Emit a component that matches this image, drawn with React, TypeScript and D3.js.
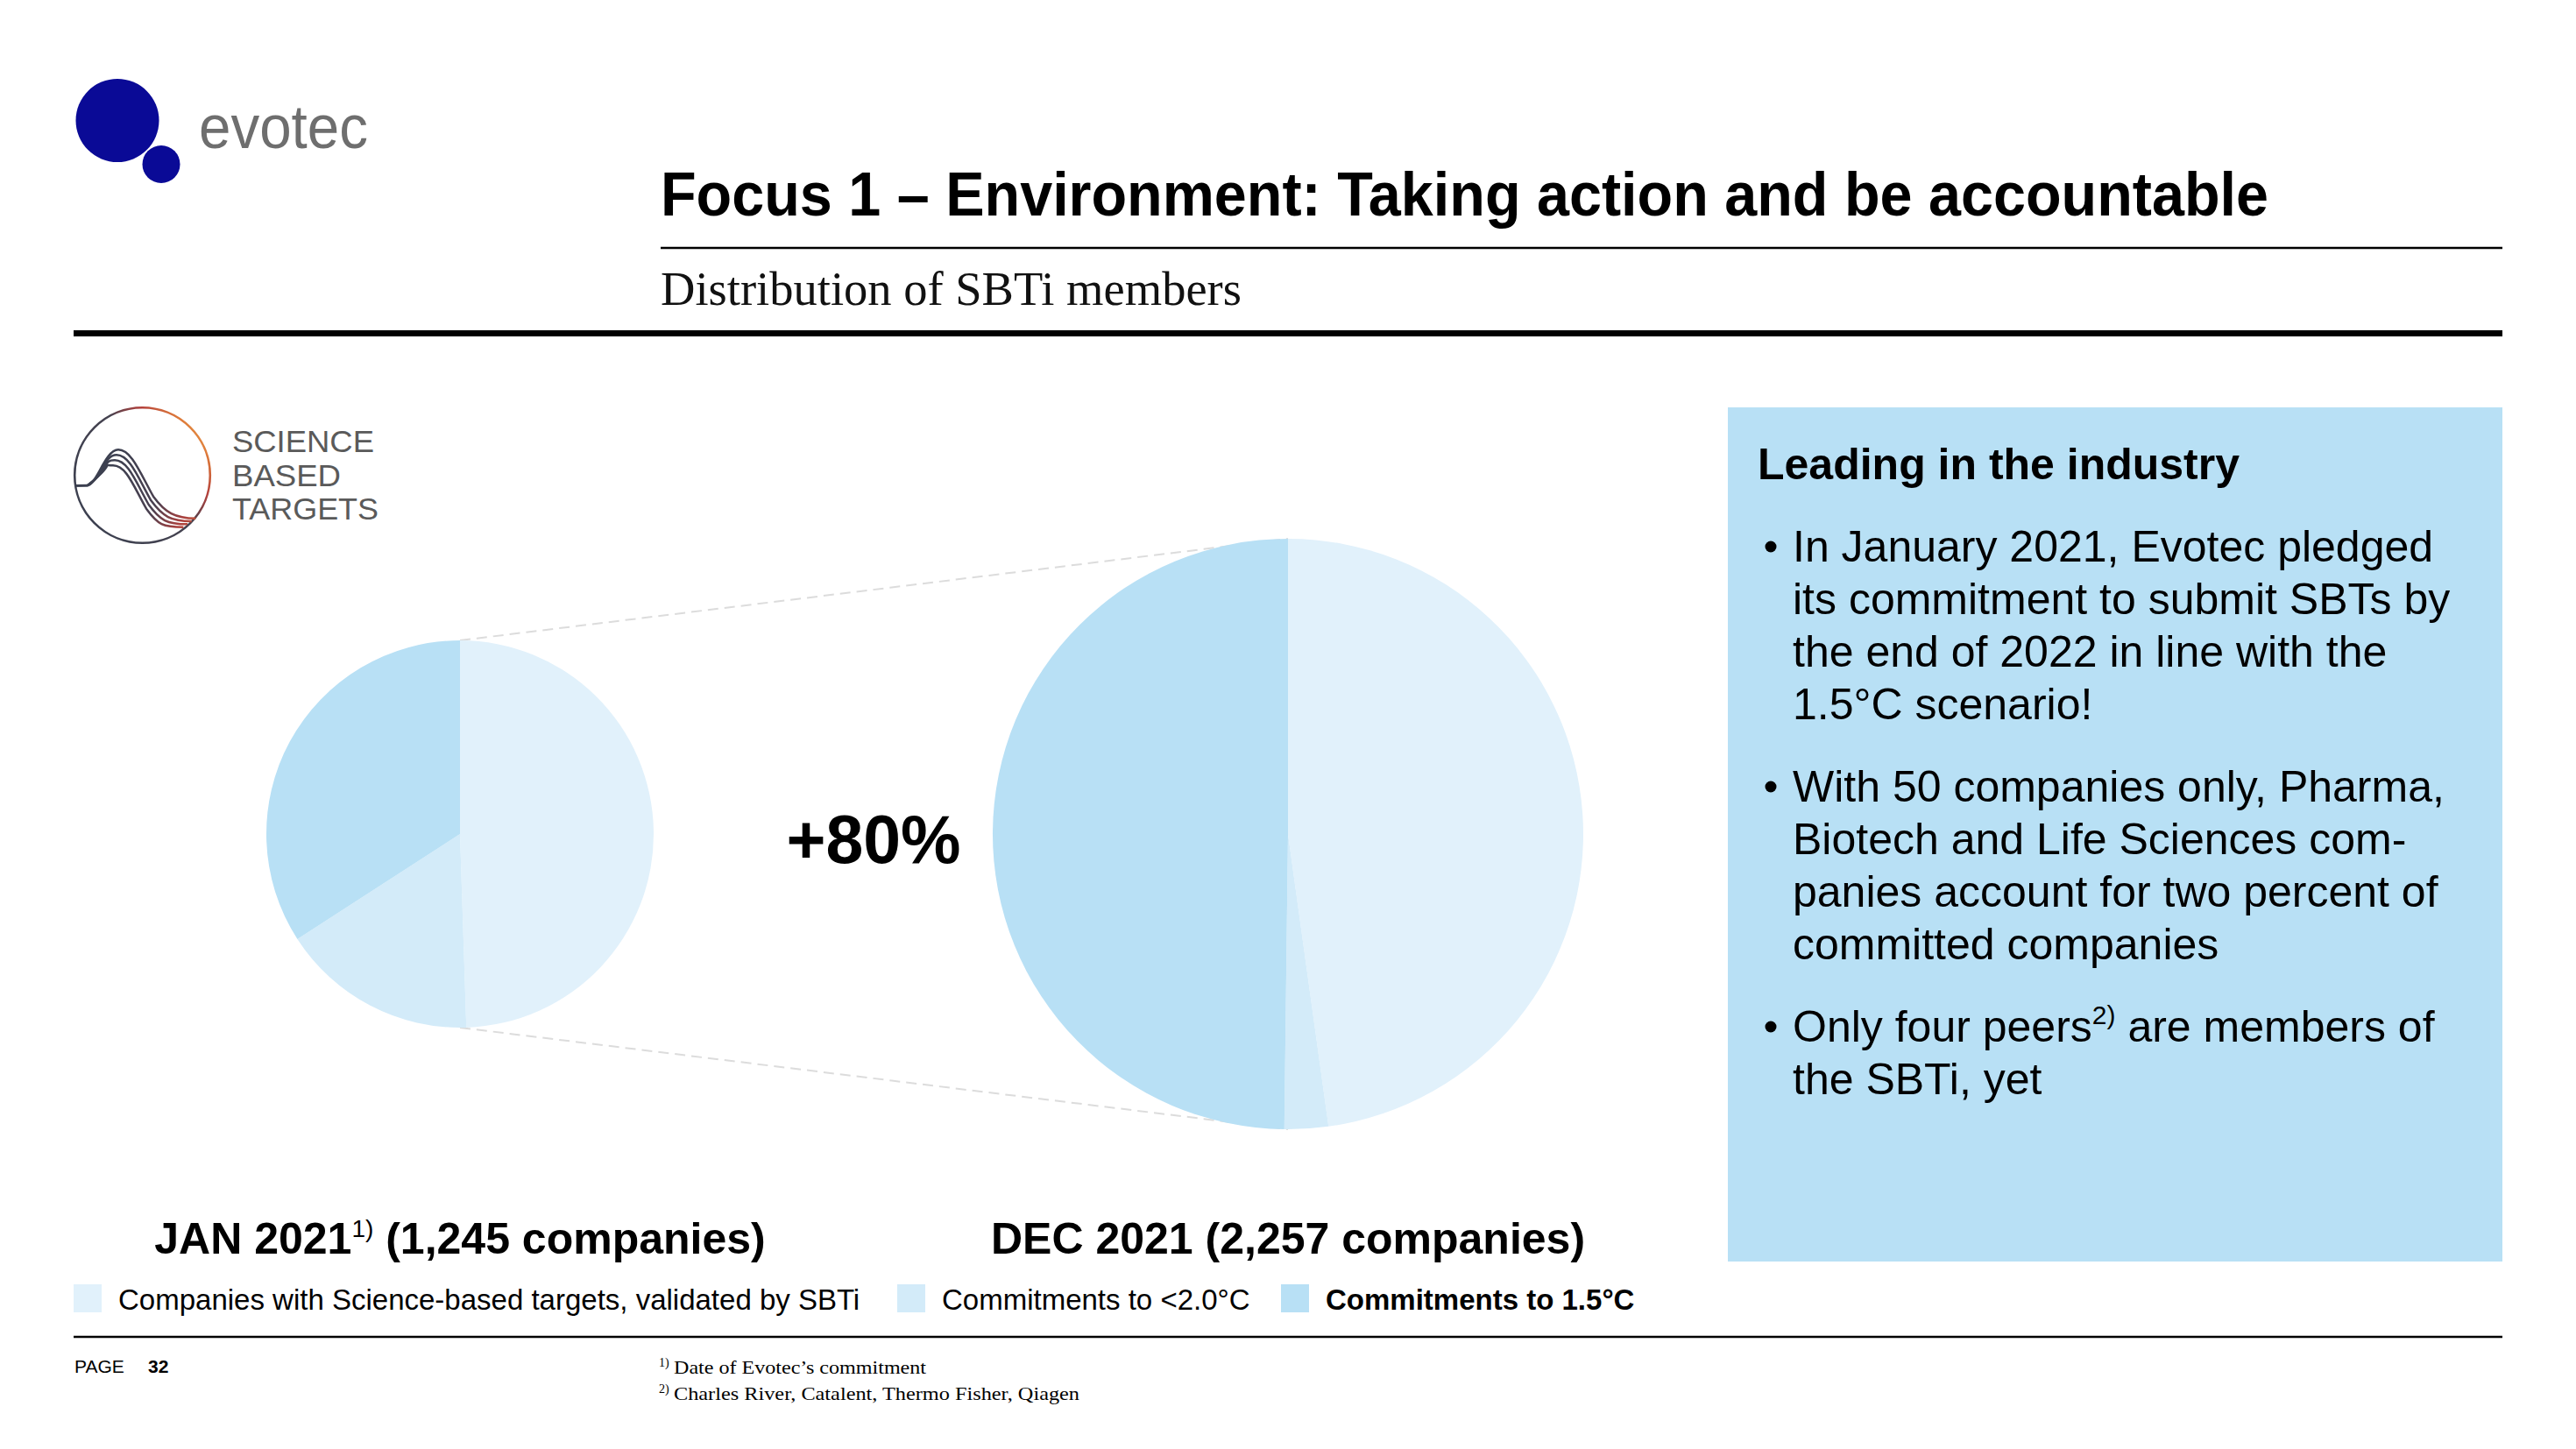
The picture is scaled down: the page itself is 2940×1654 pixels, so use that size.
import React from "react";
import * as d3 from "d3";

// ---------- Data ----------
const categories = [
  "Companies with Science-based targets, validated by SBTi",
  "Commitments to <2.0°C",
  "Commitments to 1.5°C",
];
const sliceColors = ["#E1F1FB", "#D3EBF9", "#B8E0F5"];
const periodLabels = ["JAN 2021", "DEC 2021"];
const periodSuperscripts = ["1)", ""];
const periodTotals = [1245, 2257];
const jan2021Values = [616, 204, 425];
const dec2021Values = [1079, 54, 1124];
const growthLabel = "+80%";

const titleText = "Focus 1 – Environment: Taking action and be accountable";
const subtitleText = "Distribution of SBTi members";
const panelHeading = "Leading in the industry";
const bulletParagraphs: string[][] = [
  [
    "In January 2021, Evotec pledged",
    "its commitment to submit SBTs by",
    "the end of 2022 in line with the",
    "1.5°C scenario!",
  ],
  [
    "With 50 companies only, Pharma,",
    "Biotech and Life Sciences com-",
    "panies account for two percent of",
    "committed companies",
  ],
  ["Only four peers|2)| are members of", "the SBTi, yet"],
];
const footnotes = [
  { mark: "1)", text: "Date of Evotec’s commitment" },
  { mark: "2)", text: "Charles River, Catalent, Thermo Fisher, Qiagen" },
];
const sbtWords = ["SCIENCE", "BASED", "TARGETS"];
const sbtWordWidths = [162, 124, 167];

const SANS = "'Liberation Sans', Arial, Helvetica, sans-serif";
const SERIF = "'Liberation Serif', 'Times New Roman', serif";

const fmt = d3.format(",");

function Pie({ values, cx, cy, r }: { values: number[]; cx: number; cy: number; r: number }) {
  const arcs = d3
    .pie<number>()
    .sort(null)
    .value((d) => d)(values);
  const arcGen = d3.arc<d3.PieArcDatum<number>>().innerRadius(0).outerRadius(r);
  return (
    <g transform={`translate(${cx},${cy})`}>
      {arcs.map((a, i) => (
        <path key={i} d={arcGen(a) || ""} fill={sliceColors[i]} />
      ))}
    </g>
  );
}

export default function App() {
  const W = 2940;
  const H = 1654;

  const pies = [
    { values: jan2021Values, cx: 525, cy: 952, r: 221 },
    { values: dec2021Values, cx: 1470, cy: 952, r: 337 },
  ];

  const sbtCx = 162.5;
  const sbtCy = 542.5;
  const sbtR = 77.3;
  // decorative wave lines of the SBT logo (logo-local coords, 3x scale)
  const waves = [0, 1, 2, 3].map((i) => {
    const px = 165 - i * 6;
    const py = 160 + i * 18;
    const mx = 285 - i * 8;
    const my = 320 + i * 14;
    const ex = 430 - i * 14;
    const ey = 395 + i * 10;
    const sx = 60 + i * 25;
    const sy = 282 - i * 28;
    return `M20 283 L60 282 C${sx + 30} ${sy} ${px - 45} ${py} ${px} ${py} C${px + 45} ${py} ${mx - 45} ${my - 80} ${mx} ${my} C${mx + 40} ${my + 55} ${ex - 70} ${ey} ${ex} ${ey}`;
  });

  const bulletBaselines: number[][] = [];
  {
    let y = 641;
    bulletParagraphs.forEach((p) => {
      const arr: number[] = [];
      p.forEach(() => {
        arr.push(y);
        y += 60;
      });
      bulletBaselines.push(arr);
      y += 34;
    });
  }

  const legendX = [84, 1024, 1462];

  return (
    <svg
      width={W}
      height={H}
      viewBox={`0 0 ${W} ${H}`}
      style={{ position: "absolute", left: 0, top: 0, background: "#fff" }}
    >
      <defs>
        <linearGradient id="sbtGrad" gradientUnits="userSpaceOnUse" x1="85" y1="600" x2="242" y2="480">
          <stop offset="0" stopColor="#3b4050" />
          <stop offset="0.55" stopColor="#45424f" />
          <stop offset="0.72" stopColor="#b3403c" />
          <stop offset="0.86" stopColor="#de7a3a" />
          <stop offset="1" stopColor="#f0c25a" />
        </linearGradient>
        <linearGradient id="sbtGrad2" gradientUnits="userSpaceOnUse" x1="100" y1="200" x2="440" y2="420">
          <stop offset="0" stopColor="#3b4050" />
          <stop offset="0.6" stopColor="#4a4050" />
          <stop offset="0.85" stopColor="#a8403e" />
          <stop offset="1" stopColor="#c85a3c" />
        </linearGradient>
      </defs>
      <rect x={0} y={0} width={W} height={H} fill="#fff" />

      {/* evotec logo */}
      <circle cx={134} cy={137.5} r={47.5} fill="#0a0a96" />
      <circle cx={184} cy={187.5} r={21.5} fill="#0a0a96" />
      <text x={227} y={169} fontFamily={SANS} fontSize={70} fill="#6e6e6e" textLength={193} lengthAdjust="spacingAndGlyphs">
        evotec
      </text>

      {/* title */}
      <text x={754} y={246} fontFamily={SANS} fontWeight="bold" fontSize={70} fill="#000" textLength={1835} lengthAdjust="spacingAndGlyphs">
        {titleText}
      </text>
      <line x1={754} x2={2856} y1={283} y2={283} stroke="#000" strokeWidth={2.5} />
      <text x={754} y={348} fontFamily={SERIF} fontSize={54} fill="#111" textLength={663} lengthAdjust="spacingAndGlyphs">
        {subtitleText}
      </text>
      <line x1={84} x2={2856} y1={380.5} y2={380.5} stroke="#000" strokeWidth={7} />

      {/* SBT logo */}
      <circle cx={sbtCx} cy={sbtCy} r={sbtR} fill="none" stroke="url(#sbtGrad)" strokeWidth={2.6} />
      <g transform={`translate(80,460) scale(${1 / 3})`}>
        {waves.map((d, i) => (
          <path key={i} d={d} fill="none" stroke="url(#sbtGrad2)" strokeWidth={7.5} />
        ))}
      </g>
      {sbtWords.map((w, i) => (
        <text
          key={w}
          x={265}
          y={516 + i * 38.5}
          fontFamily={SANS}
          fontSize={35}
          fill="#5a5a5a"
          textLength={sbtWordWidths[i]}
          lengthAdjust="spacingAndGlyphs"
        >
          {w}
        </text>
      ))}

      {/* dashed connectors */}
      <line
        x1={pies[0].cx}
        y1={pies[0].cy - pies[0].r}
        x2={pies[1].cx}
        y2={pies[1].cy - pies[1].r}
        stroke="#dcdcdc"
        strokeWidth={2}
        strokeDasharray="12 7"
      />
      <line
        x1={pies[0].cx}
        y1={pies[0].cy + pies[0].r}
        x2={pies[1].cx}
        y2={pies[1].cy + pies[1].r}
        stroke="#dcdcdc"
        strokeWidth={2}
        strokeDasharray="12 7"
      />

      {pies.map((p, i) => (
        <Pie key={i} values={p.values} cx={p.cx} cy={p.cy} r={p.r} />
      ))}

      <text x={997} y={985} textAnchor="middle" fontFamily={SANS} fontWeight="bold" fontSize={77} fill="#000">
        {growthLabel}
      </text>

      {/* period labels */}
      {pies.map((p, i) => (
        <text key={i} x={p.cx} y={1431} textAnchor="middle" fontFamily={SANS} fontWeight="bold" fontSize={50} fill="#000">
          {periodLabels[i]}
          {periodSuperscripts[i] ? (
            <tspan fontSize={28} fontWeight="normal" dy={-19}>
              {periodSuperscripts[i]}
            </tspan>
          ) : null}
          <tspan dy={periodSuperscripts[i] ? 19 : 0}>{` (${fmt(periodTotals[i])} companies)`}</tspan>
        </text>
      ))}

      {/* legend */}
      {categories.map((c, i) => (
        <g key={c}>
          <rect x={legendX[i]} y={1466} width={32} height={32} fill={sliceColors[i]} />
          <text
            x={legendX[i] + 51}
            y={1495}
            fontFamily={SANS}
            fontSize={33}
            fontWeight={i === 2 ? "bold" : "normal"}
            fill="#000"
          >
            {c}
          </text>
        </g>
      ))}

      {/* right panel */}
      <rect x={1972} y={465} width={884} height={975} fill="#B8E0F5" />
      <text x={2006} y={547} fontFamily={SANS} fontWeight="bold" fontSize={50} fill="#000">
        {panelHeading}
      </text>
      {bulletParagraphs.map((p, pi) => (
        <g key={pi}>
          <circle cx={2021} cy={bulletBaselines[pi][0] - 17} r={6.5} fill="#000" />
          {p.map((line, li) => {
            const parts = line.split("|");
            return (
              <text key={li} x={2046} y={bulletBaselines[pi][li]} fontFamily={SANS} fontSize={50} fill="#000">
                {parts.length === 1 ? (
                  line
                ) : (
                  <>
                    {parts[0]}
                    <tspan fontSize={30} dy={-20}>
                      {parts[1]}
                    </tspan>
                    <tspan dy={20}>{parts[2]}</tspan>
                  </>
                )}
              </text>
            );
          })}
        </g>
      ))}

      {/* footer */}
      <line x1={84} x2={2856} y1={1526} y2={1526} stroke="#000" strokeWidth={2.5} />
      <text x={85} y={1567} fontFamily={SANS} fontSize={21} fill="#000">
        PAGE
      </text>
      <text x={169} y={1567} fontFamily={SANS} fontSize={21} fontWeight="bold" fill="#000">
        32
      </text>
      {footnotes.map((f, i) => (
        <g key={i}>
          <text x={752} y={1568 + i * 30} fontFamily={SERIF} fontSize={14} fill="#000" dy={-8}>
            {f.mark}
          </text>
          <text
            x={769}
            y={1568 + i * 30}
            fontFamily={SERIF}
            fontSize={22}
            fill="#000"
            textLength={i === 0 ? 288 : 463}
            lengthAdjust="spacingAndGlyphs"
          >
            {f.text}
          </text>
        </g>
      ))}
    </svg>
  );
}
